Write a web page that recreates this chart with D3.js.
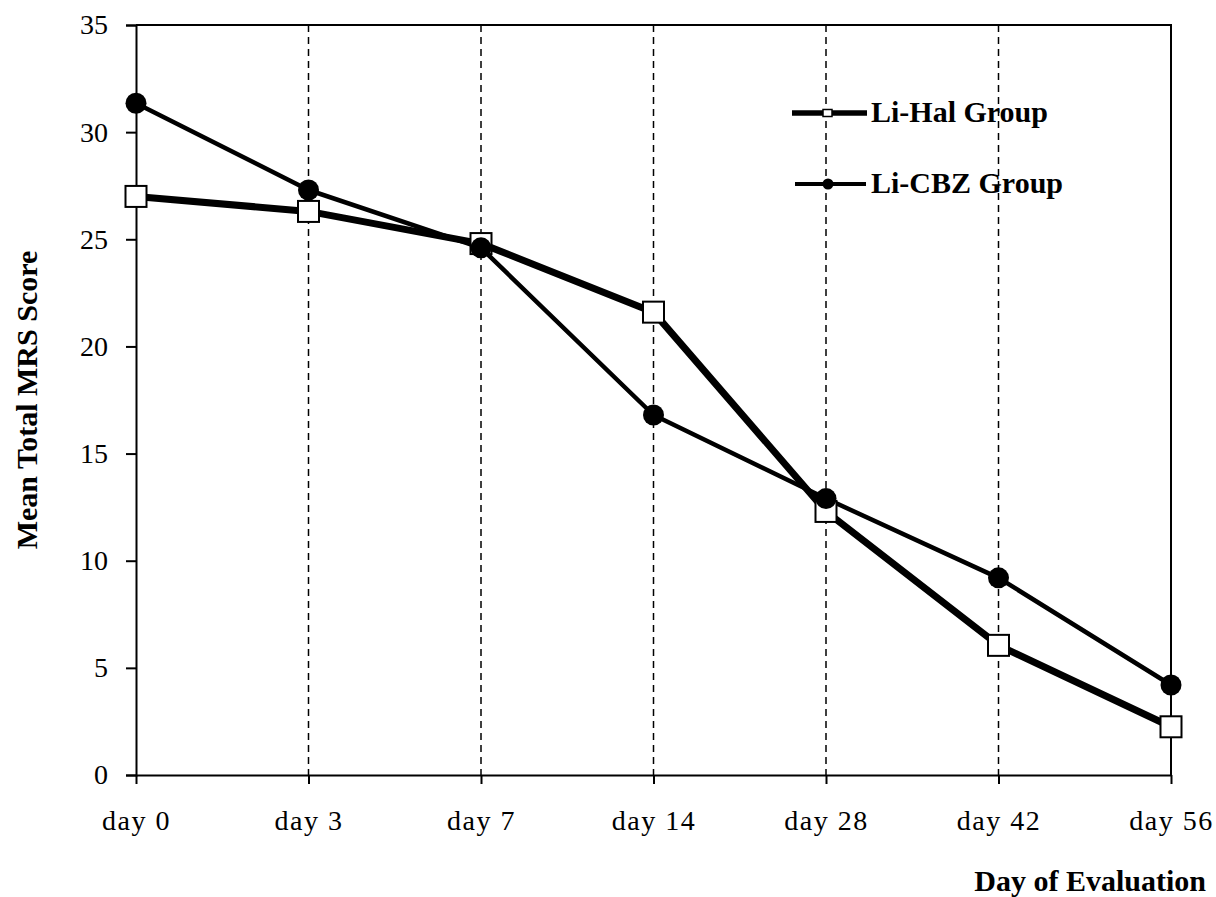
<!DOCTYPE html>
<html>
<head>
<meta charset="utf-8">
<script src="https://cdn.jsdelivr.net/npm/d3@7"></script>
<style>
  html, body { margin: 0; padding: 0; background: #fff; }
  svg { display: block; }
  text { font-family: "Liberation Serif", "Times New Roman", serif; fill: #000; }
</style>
</head>
<body>
<svg id="chart" width="1216" height="897"></svg>
<script>
const categories = ["day 0", "day 3", "day 7", "day 14", "day 28", "day 42", "day 56"];
const liHal = [27.0, 26.3, 24.8, 21.6, 12.3, 6.05, 2.25];
const liCBZ = [31.35, 27.3, 24.6, 16.8, 12.9, 9.2, 4.2];
const yTicks = [0, 5, 10, 15, 20, 25, 30, 35];
const seriesNames = ["Li-Hal Group", "Li-CBZ Group"];

const svg = d3.select("#chart");
const mLeft = 136, mRight = 1171, mTop = 25, mBottom = 775;

const x = d3.scalePoint().domain(categories).range([mLeft, mRight]);
const y = d3.scaleLinear().domain([0, 35]).range([mBottom, mTop]);

// frame top & right
svg.append("path")
  .attr("d", `M${mLeft},${mTop}H${mRight}V${mBottom}`)
  .attr("fill", "none").attr("stroke", "#000").attr("stroke-width", 2);

// dashed vertical gridlines
svg.append("g").selectAll("line")
  .data(categories.slice(1, -1)).join("line")
  .attr("x1", d => x(d)).attr("x2", d => x(d))
  .attr("y1", mTop).attr("y2", mBottom)
  .attr("stroke", "#000").attr("stroke-width", 1.5)
  .attr("stroke-dasharray", "7,5");

// y axis
const yAxis = svg.append("g").attr("transform", `translate(${mLeft},0)`)
  .call(d3.axisLeft(y).tickValues(yTicks).tickSize(10).tickPadding(18).tickFormat(d3.format("d")));
yAxis.select(".domain").attr("stroke-width", 2);
yAxis.selectAll(".tick line").attr("stroke-width", 2);
yAxis.selectAll(".tick text").attr("font-size", 28).attr("font-family", "Liberation Serif").attr("fill", "#000");

// x axis
const xAxis = svg.append("g").attr("transform", `translate(0,${mBottom})`)
  .call(d3.axisBottom(x).tickSize(9).tickSizeOuter(0).tickPadding(26));
xAxis.select(".domain").attr("stroke-width", 2);
xAxis.selectAll(".tick line").attr("stroke-width", 2);
xAxis.selectAll(".tick text").attr("font-size", 28).attr("font-family", "Liberation Serif")
  .attr("letter-spacing", 1.5).attr("fill", "#000");

// lines
const line = d3.line().x((d, i) => x(categories[i])).y(d => y(d));
svg.append("path").datum(liHal).attr("d", line)
  .attr("fill", "none").attr("stroke", "#000").attr("stroke-width", 7).attr("stroke-linejoin", "round");
svg.append("path").datum(liCBZ).attr("d", line)
  .attr("fill", "none").attr("stroke", "#000").attr("stroke-width", 4.5).attr("stroke-linejoin", "round");

// markers
const sq = 21;
svg.append("g").selectAll("rect").data(liHal).join("rect")
  .attr("x", (d, i) => x(categories[i]) - sq / 2)
  .attr("y", d => y(d) - sq / 2)
  .attr("width", sq).attr("height", sq)
  .attr("fill", "#fff").attr("stroke", "#000").attr("stroke-width", 2);
svg.append("g").selectAll("circle").data(liCBZ).join("circle")
  .attr("cx", (d, i) => x(categories[i]))
  .attr("cy", d => y(d))
  .attr("r", 10.5).attr("fill", "#000");

// legend
const lg = svg.append("g");
lg.append("line").attr("x1", 792).attr("x2", 867).attr("y1", 113).attr("y2", 113)
  .attr("stroke", "#000").attr("stroke-width", 5.5);
lg.append("rect").attr("x", 823).attr("y", 109.5).attr("width", 9).attr("height", 7)
  .attr("fill", "#fff").attr("stroke", "#000").attr("stroke-width", 1.5);
lg.append("text").attr("x", 871).attr("y", 122).attr("font-size", 30).attr("font-weight", "bold").text(seriesNames[0]);
lg.append("line").attr("x1", 795).attr("x2", 866).attr("y1", 184).attr("y2", 184)
  .attr("stroke", "#000").attr("stroke-width", 4);
lg.append("circle").attr("cx", 828).attr("cy", 184).attr("r", 5.5).attr("fill", "#000");
lg.append("text").attr("x", 871).attr("y", 193).attr("font-size", 30).attr("font-weight", "bold").text(seriesNames[1]);

// axis titles
svg.append("text")
  .attr("transform", `translate(37,400) rotate(-90)`)
  .attr("text-anchor", "middle").attr("font-size", 30).attr("font-weight", "bold")
  .text("Mean Total MRS Score");
svg.append("text")
  .attr("x", 1206).attr("y", 891).attr("text-anchor", "end")
  .attr("font-size", 30).attr("font-weight", "bold")
  .text("Day of Evaluation");
</script>
</body>
</html>
